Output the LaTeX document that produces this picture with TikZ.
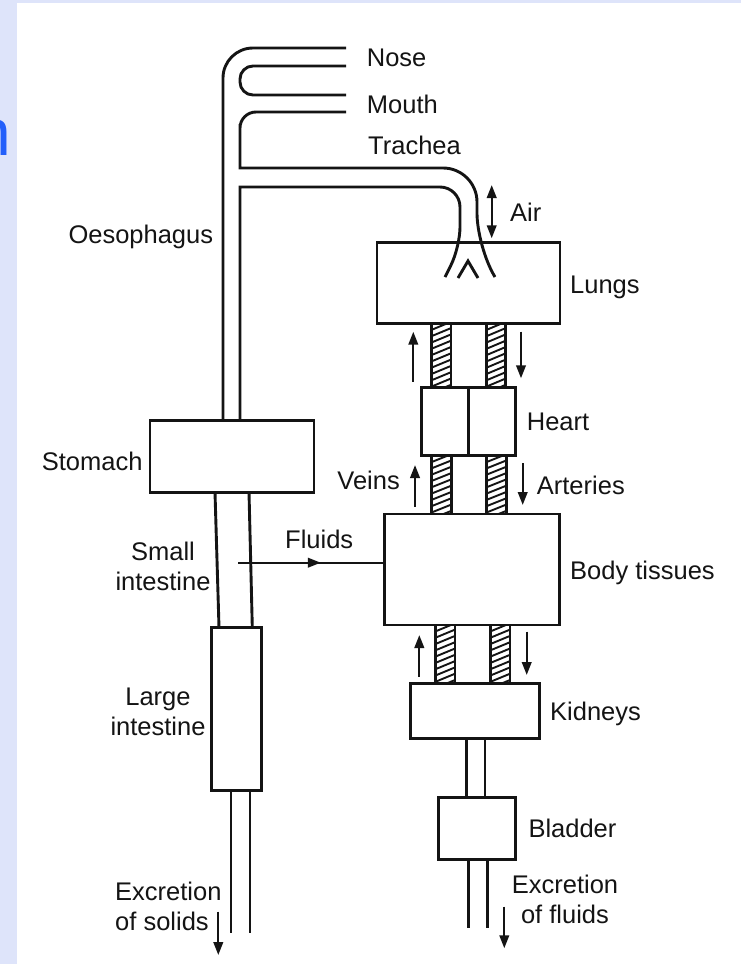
\documentclass[tikz,border=0pt]{standalone}
\usepackage{fontspec}
\setmainfont{Liberation Sans}
\usetikzlibrary{arrows.meta,decorations.markings}

\definecolor{slidebg}{RGB}{222,228,250}
\definecolor{titleblue}{RGB}{35,95,250}
\definecolor{ink}{RGB}{20,20,20}

\newcommand{\hatchtube}[4]{%
  \begin{scope}
    \clip (#1,#3) rectangle (#2,#4);
    \foreach \k in {0,...,14} {\draw[hatchline] (#1,{#3+\k*6.3}) -- (#2,{#3+\k*6.3-8});}
  \end{scope}
  \draw[wall] (#1,#3) -- (#1,#4) (#2,#3) -- (#2,#4);
}

\begin{document}
\begin{tikzpicture}[x=1pt,y=-1pt,
  wall/.style={line width=2.9pt, draw=ink},
  hatchline/.style={line width=1.9pt, draw=ink},
  organ/.style={draw=ink, line width=2.9pt, fill=white, inner sep=0pt},
  lbl/.style={inner sep=0pt, text=ink, font=\fontsize{25.5}{30}\selectfont},
  flow/.style={line width=2.3pt, draw=ink, -{Triangle[length=13pt,width=9.5pt]}},
  dflow/.style={line width=2.3pt, draw=ink, {Triangle[length=13pt,width=9.5pt]}-{Triangle[length=13pt,width=9.5pt]}}]

\useasboundingbox (0,0) rectangle (741,964);
\fill[slidebg] (0,0) rectangle (741,964);
\fill[white] (17,3) rectangle (741,964);
\node[anchor=base east, inner sep=0pt, text=titleblue, font=\fontsize{66}{70}\selectfont] (title) at (11.5,155) {n};

% organs
\node[organ, minimum width=183pt, minimum height=81pt] (lungs) at (468.5,283) {};
\node[organ, minimum width=94pt, minimum height=68.4pt] (heart) at (468.7,421.5) {};
\draw[wall] (heart.north) -- (heart.south);
\node[organ, minimum width=174.5pt, minimum height=111pt] (tissues) at (471.8,569.5) {};
\node[organ, minimum width=129.3pt, minimum height=55pt] (kidneys) at (474.7,710.8) {};
\node[organ, minimum width=76.7pt, minimum height=61.7pt] (bladder) at (476.7,828.2) {};
\node[organ, minimum width=164pt, minimum height=72.3pt] (stomach) at (232,456.2) {};
\node[organ, minimum width=50pt, minimum height=163.2pt] (large) at (236.2,709.1) {};

% airway and oesophagus
\draw[wall, rounded corners=30] (346,48) -| (223,420);
\draw[wall, rounded corners=13] (346,66) -| (240,95) -- (346,95);
\draw[wall] (346,112) [rounded corners=16] -| (240,140) [sharp corners] -- (240,168) -- (300,168) [rounded corners=34] -| (477,247) [sharp corners] -- (495,277);
\draw[wall] (240,420) -- (240,187) -- (300,187) [rounded corners=20] -| (460,247) [sharp corners] -- (445,277);
\draw[wall] (458,278) -- (468,261) -- (478,278);

% gut tubes
\draw[wall] (215,492.3) -- (219,627.5) (249,492.3) -- (252.3,627.5);
\draw[wall] (231,790.7) -- (231,933) (250,790.7) -- (250,933);

% urinary tubes
\draw[wall] (466.7,738.3) -- (466.7,797.3) (485,738.3) -- (485,797.3);
\draw[wall] (468.3,859) -- (468.3,928) (487.3,859) -- (487.3,928);

% blood vessels
\hatchtube{431.7}{451}{323.5}{387.3}
\hatchtube{486.7}{505.7}{323.5}{387.3}
\hatchtube{431.7}{451.7}{455.7}{514}
\hatchtube{486.7}{506.7}{455.7}{514}
\hatchtube{435.7}{455}{625}{683.3}
\hatchtube{490.7}{510}{625}{683.3}

% flow arrows
\draw[dflow] (491.7,185) -- (491.7,238.3);
\draw[flow] (413.3,381.7) -- (413.3,331.7);
\draw[flow] (521,331.7) -- (521,378.3);
\draw[flow] (415,506.7) -- (415,465);
\draw[flow] (522.7,463.3) -- (522.7,505);
\draw[flow] (419.3,676.7) -- (419.3,635);
\draw[flow] (526.7,631.7) -- (526.7,675);
\draw[flow] (218.3,911.7) -- (218.3,955);
\draw[flow] (504.3,906.7) -- (504.3,948.3);
\coordinate (fl) at (238.3,562.7);
\draw[line width=2.3pt, draw=ink, postaction={decorate},
  decoration={markings, mark=at position 0.57 with {\arrow{Triangle[length=13pt,width=9.5pt]}}}]
  (fl) -- (fl -| tissues.west);

% labels
\node[lbl, anchor=base west] (nosel) at (366.7,66) {Nose};
\node[lbl, anchor=base west] (mouthl) at (366.7,113) {Mouth};
\node[lbl, anchor=base west] (tracheal) at (368,154) {Trachea};
\node[lbl, anchor=base west] (airl) at (510,221) {Air};
\node[lbl, anchor=base west] (lungsl) at (570,293) {Lungs};
\node[lbl, anchor=base west] (oesol) at (68.3,243) {Oesophagus};
\node[lbl, anchor=base west] (stomachl) at (41.7,470) {Stomach};
\node[lbl, anchor=base, align=center] (smalll) at (163,590) {Small\\intestine};
\node[lbl, anchor=base west] (fluidsl) at (285,548) {Fluids};
\node[lbl, anchor=base east] (veinsl) at (400,489) {Veins};
\node[lbl, anchor=base west] (heartl) at (526.7,430) {Heart};
\node[lbl, anchor=base west] (arteriesl) at (536.7,494) {Arteries};
\node[lbl, anchor=base west] (tissuesl) at (570,579) {Body tissues};
\node[lbl, anchor=base west] (kidneysl) at (550,720) {Kidneys};
\node[lbl, anchor=base, align=center] (largel) at (158,735) {Large\\intestine};
\node[lbl, anchor=base west, align=left] (exsl) at (115,930) {Excretion\\of solids};
\node[lbl, anchor=base west] (bladderl) at (528.3,837) {Bladder};
\node[lbl, anchor=base, align=center] (exfl) at (565,923) {Excretion\\of fluids};
\end{tikzpicture}
\end{document}
